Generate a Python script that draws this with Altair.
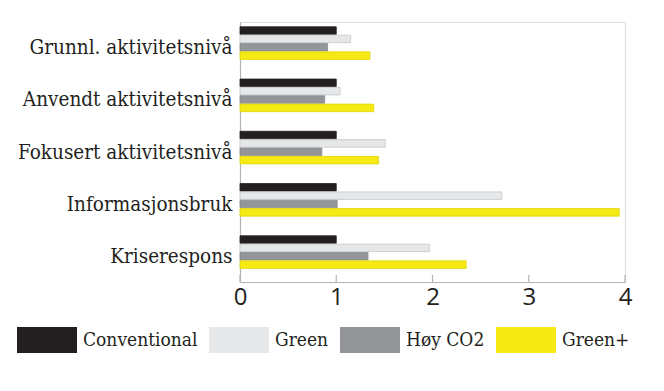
import altair as alt
import pandas as pd

categories = ["Grunnl. aktivitetsnivå", "Anvendt aktivitetsnivå", "Fokusert aktivitetsnivå",
              "Informasjonsbruk", "Kriserespons"]
series = ["Conventional", "Green", "Høy CO2", "Green+"]
conventional = [1.0, 1.0, 1.0, 1.0, 1.0]
green = [1.15, 1.04, 1.51, 2.72, 1.97]
hoy_co2 = [0.91, 0.88, 0.85, 1.01, 1.33]
green_plus = [1.35, 1.39, 1.44, 3.94, 2.35]
x_ticks = [0, 1, 2, 3, 4]

fills = ["#231f20", "#e6e7e8", "#939598", "#f5ea14"]
strokes = ["#231f20", "#c4c6c8", "#8a8c8f", "#e0d40a"]

rows = []
for s, vals in zip(series, [conventional, green, hoy_co2, green_plus]):
    for c, v in zip(categories, vals):
        rows.append({"category": c, "series": s, "value": v})
df = pd.DataFrame(rows)
ticks_df = pd.DataFrame({"t": x_ticks})

SLAB = "DejaVu Serif Condensed"
W, H = 385, 260

xscale = alt.Scale(domain=[0, 4], nice=False)

bars = alt.Chart(df).mark_bar(strokeWidth=0.8).encode(
    x=alt.X("value:Q", scale=xscale,
            axis=alt.Axis(values=x_ticks, format="d", title=None, grid=False, ticks=False,
                          domainColor="#b3b3b3", domainWidth=1.2,
                          labelFont="Open Sans", labelFontSize=24, labelColor="#231f20",
                          labelPadding=3, labelFlush=False)),
    y=alt.Y("category:N", sort=categories,
            scale=alt.Scale(paddingInner=0.376, paddingOuter=0.176, align=0.26),
            axis=alt.Axis(title=None, ticks=False, domainColor="#b3b3b3", domainWidth=1.2,
                          labelFont=SLAB, labelFontSize=20.5, labelColor="#231f20",
                          labelPadding=8, labelLimit=300, labelOffset=5)),
    yOffset=alt.YOffset("series:N", sort=series, scale=alt.Scale(paddingInner=0.1, paddingOuter=0)),
    color=alt.Color("series:N", sort=series, scale=alt.Scale(domain=series, range=fills),
                    legend=alt.Legend(title=None, orient="none", direction="horizontal",
                                      legendX=-223, legendY=288,
                                      symbolType="M-1,-0.433H1V0.433H-1Z", symbolSize=3600,
                                      symbolStrokeWidth=0, symbolOpacity=1,
                                      labelFont=SLAB, labelFontSize=19, labelColor="#231f20",
                                      labelOffset=6, columnPadding=11, padding=0)),
    stroke=alt.Stroke("series:N", sort=series, scale=alt.Scale(domain=series, range=strokes),
                      legend=None),
)

tick_marks = alt.Chart(ticks_df).mark_rule(color="#b3b3b3", strokeWidth=1.2).encode(
    x=alt.X("t:Q", scale=xscale),
    y=alt.value(H - 7),
    y2=alt.value(H),
)

chart = alt.layer(bars, tick_marks).properties(
    width=W, height=H,
    autosize=alt.AutoSizeParams(type="none"),
    padding={"left": 232, "top": 14, "right": 30, "bottom": 90},
).configure_view(stroke=None).configure(background="white")

chart.save("out.html", embed_options={"renderer": "svg", "actions": False})
